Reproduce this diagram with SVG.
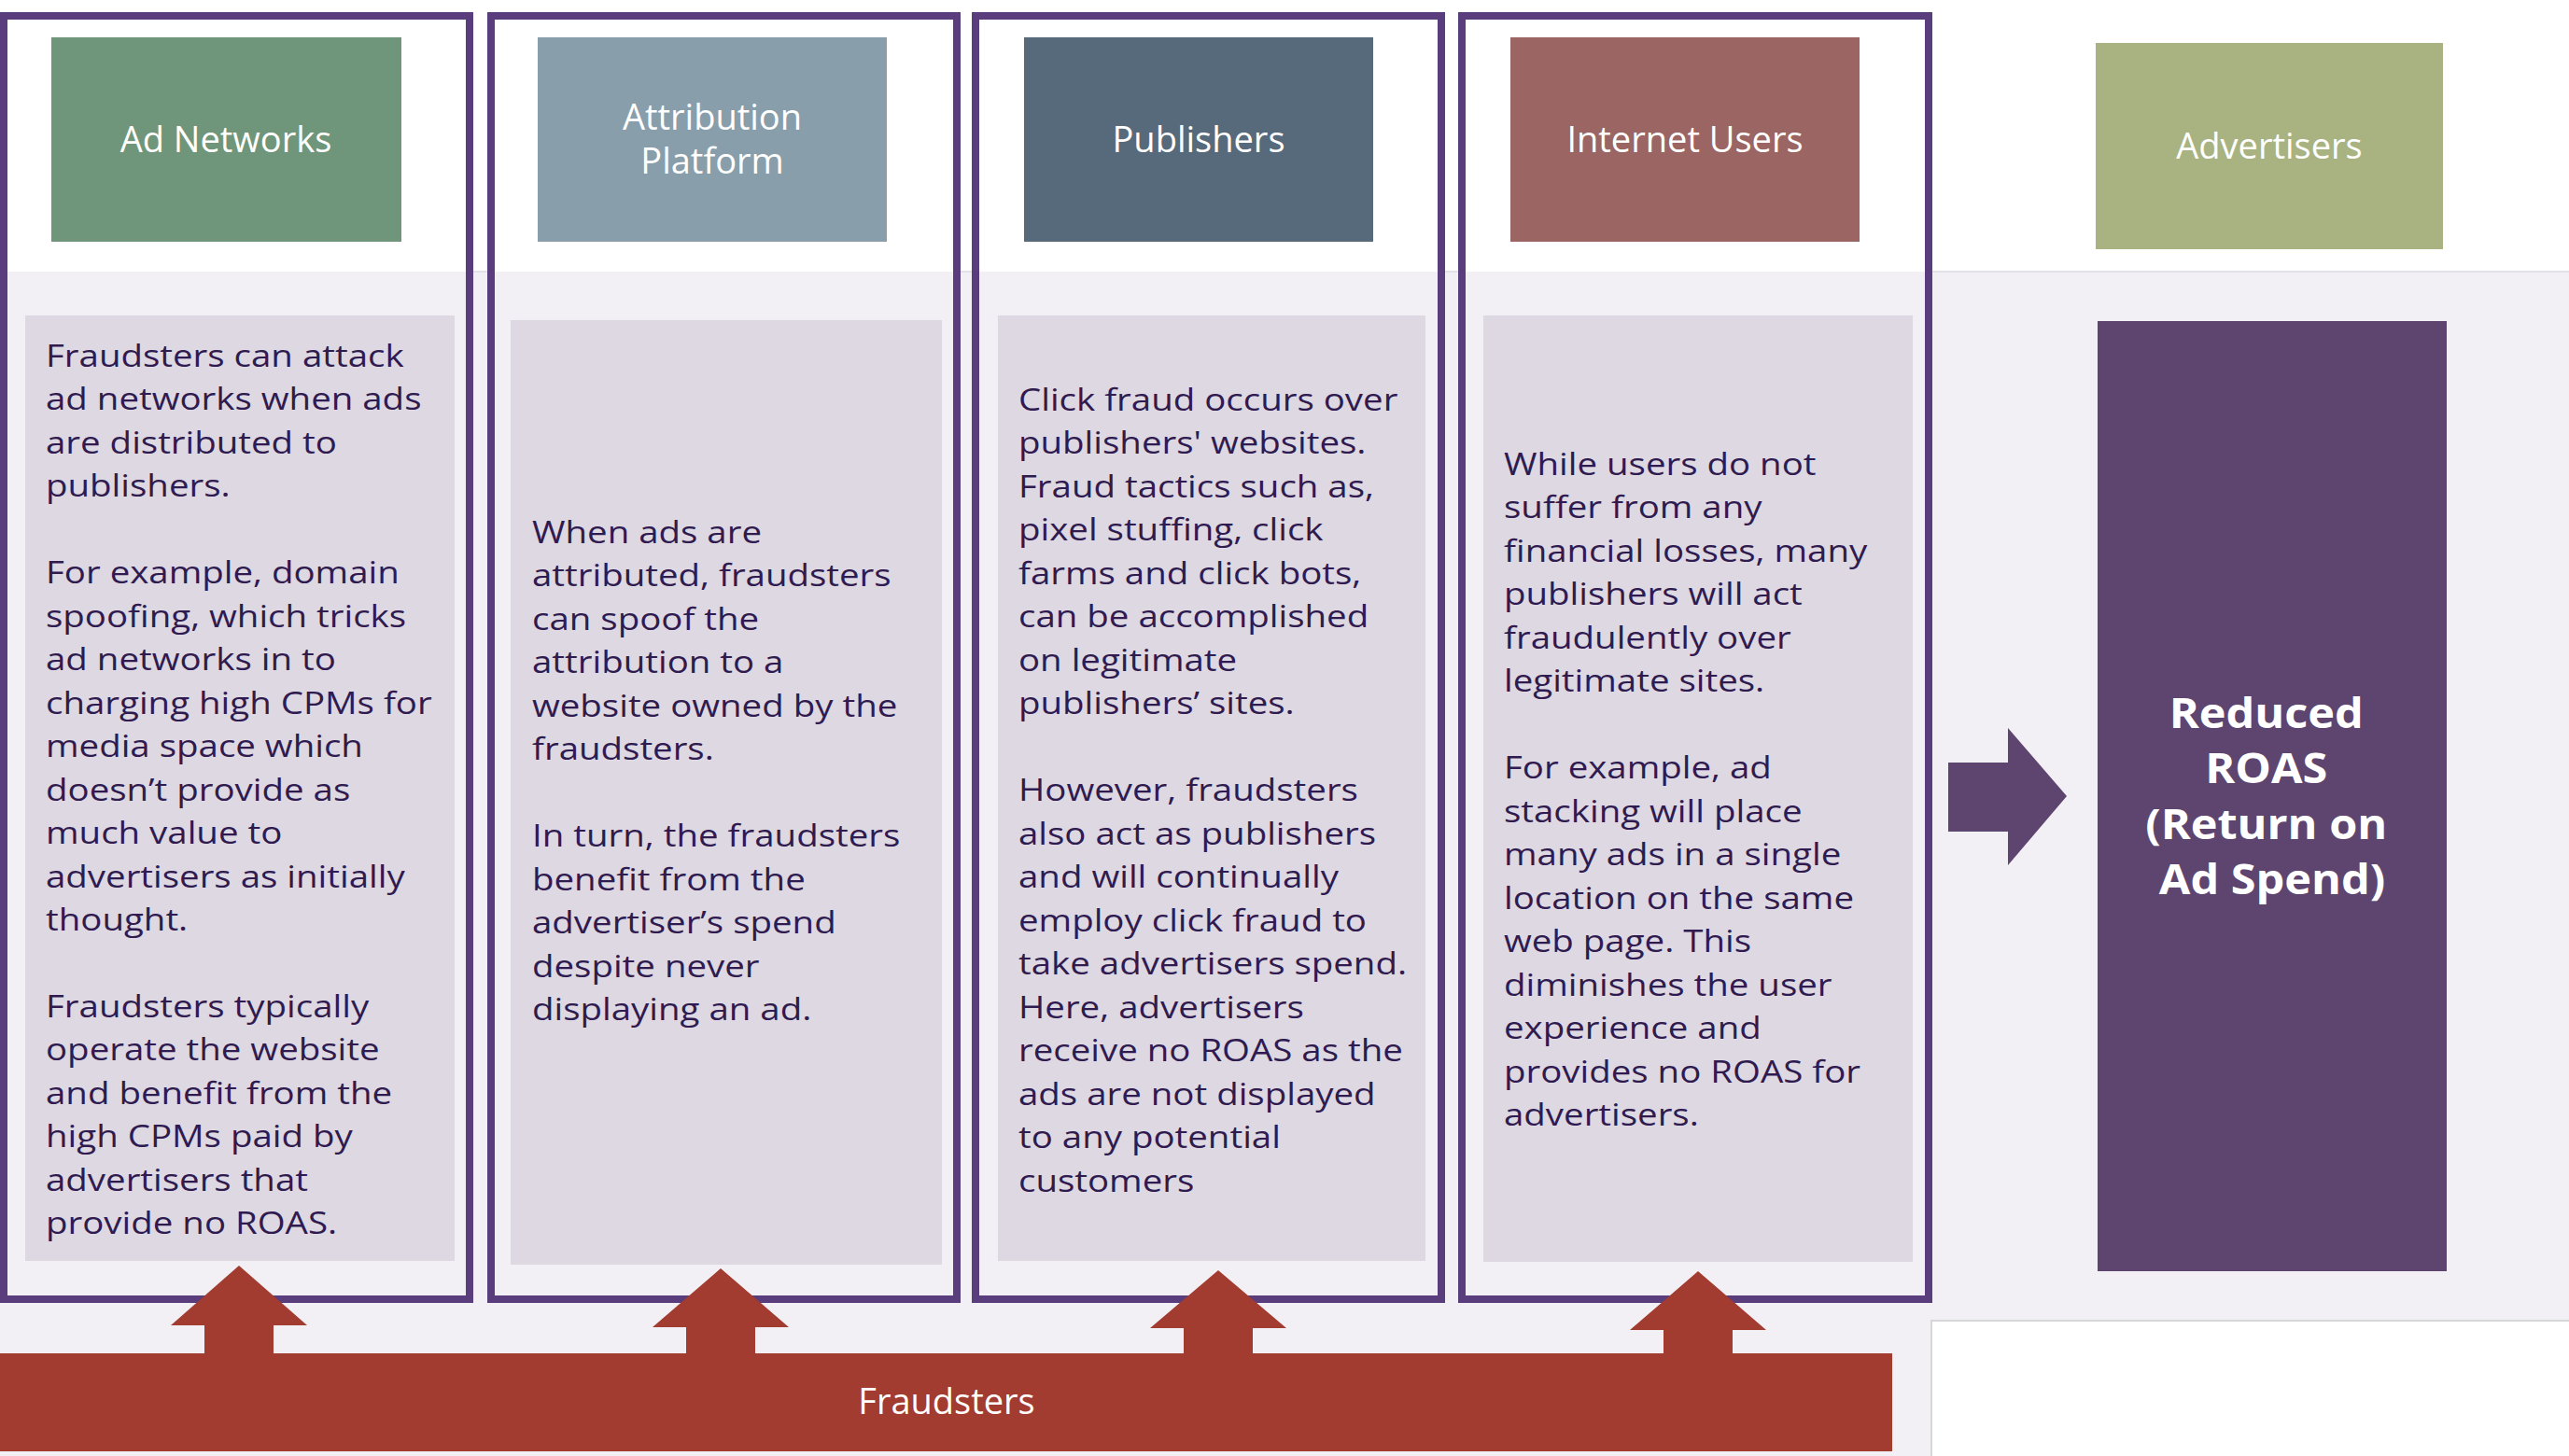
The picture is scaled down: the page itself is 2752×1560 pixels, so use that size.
<svg xmlns="http://www.w3.org/2000/svg" width="2752" height="1560" viewBox="0 0 2752 1560">
<defs>
<style>
.frame{fill:none;stroke:#5a3d7d;stroke-width:8}
.panel{fill:#ddd8e2}
.hdr{font-family:"Open Sans","Liberation Sans",sans-serif;font-size:38px;fill:#ffffff;text-anchor:middle}
.body{font-family:"Open Sans","Liberation Sans",sans-serif;font-size:33px;fill:#2f1b50}
.big{font-family:"Open Sans","Liberation Sans",sans-serif;font-size:45px;font-weight:bold;fill:#ffffff;text-anchor:middle}
.red{fill:#a23b30}
.purp{fill:#5d4570}
</style>
</defs>
<rect x="0" y="0" width="2752" height="1560" fill="#ffffff"/>
<rect x="0" y="291" width="2069" height="1269" fill="#f2f0f4"/>
<rect x="2069" y="291" width="683" height="1124" fill="#f2f0f4"/>
<line x1="0" y1="291" x2="2752" y2="291" stroke="#e3e1e7" stroke-width="2"/>
<polyline points="2069,1560 2069,1415 2752,1415" fill="none" stroke="#d6d6d8" stroke-width="2"/>

<g id="node-ad-networks">
<rect x="4" y="17" width="499" height="1375" fill="#ffffff"/>
<rect x="4" y="291" width="499" height="1101" fill="#f2f0f4"/>
<rect x="55" y="40" width="375" height="219" fill="#6f967a"/>
<text class="hdr" x="242" y="163">Ad Networks</text>
<rect class="panel" x="27" y="338" width="460" height="1013"/>
<text class="body" transform="translate(49,0) scale(1.165,1)">
<tspan x="0" y="393">Fraudsters can attack</tspan>
<tspan x="0" y="439.5">ad networks when ads</tspan>
<tspan x="0" y="486">are distributed to</tspan>
<tspan x="0" y="532.5">publishers.</tspan>
<tspan x="0" y="625.5">For example, domain</tspan>
<tspan x="0" y="672">spoofing, which tricks</tspan>
<tspan x="0" y="718.5">ad networks in to</tspan>
<tspan x="0" y="765">charging high CPMs for</tspan>
<tspan x="0" y="811.5">media space which</tspan>
<tspan x="0" y="858">doesn’t provide as</tspan>
<tspan x="0" y="904.5">much value to</tspan>
<tspan x="0" y="951">advertisers as initially</tspan>
<tspan x="0" y="997.5">thought.</tspan>
<tspan x="0" y="1090">Fraudsters typically</tspan>
<tspan x="0" y="1136.5">operate the website</tspan>
<tspan x="0" y="1183">and benefit from the</tspan>
<tspan x="0" y="1229.5">high CPMs paid by</tspan>
<tspan x="0" y="1276">advertisers that</tspan>
<tspan x="0" y="1322.5">provide no ROAS.</tspan>
</text>
<rect class="frame" x="4" y="17" width="499" height="1375"/>
</g>

<g id="node-attribution-platform">
<rect x="526" y="17" width="499" height="1375" fill="#ffffff"/>
<rect x="526" y="291" width="499" height="1101" fill="#f2f0f4"/>
<rect x="576" y="40" width="374" height="219" fill="#889eab"/>
<text class="hdr" x="763" y="139">Attribution</text>
<text class="hdr" x="763" y="186">Platform</text>
<rect class="panel" x="547" y="343" width="462" height="1012"/>
<text class="body" transform="translate(570,0) scale(1.165,1)">
<tspan x="0" y="582">When ads are</tspan>
<tspan x="0" y="628.5">attributed, fraudsters</tspan>
<tspan x="0" y="675">can spoof the</tspan>
<tspan x="0" y="721.5">attribution to a</tspan>
<tspan x="0" y="768">website owned by the</tspan>
<tspan x="0" y="814.5">fraudsters.</tspan>
<tspan x="0" y="907.5">In turn, the fraudsters</tspan>
<tspan x="0" y="954">benefit from the</tspan>
<tspan x="0" y="1000.5">advertiser’s spend</tspan>
<tspan x="0" y="1047">despite never</tspan>
<tspan x="0" y="1093.5">displaying an ad.</tspan>
</text>
<rect class="frame" x="526" y="17" width="499" height="1375"/>
</g>

<g id="node-publishers">
<rect x="1045" y="17" width="499" height="1375" fill="#ffffff"/>
<rect x="1045" y="291" width="499" height="1101" fill="#f2f0f4"/>
<rect x="1097" y="40" width="374" height="219" fill="#566a7c"/>
<text class="hdr" x="1284" y="163">Publishers</text>
<rect class="panel" x="1069" y="338" width="458" height="1013"/>
<text class="body" transform="translate(1091,0) scale(1.165,1)">
<tspan x="0" y="440">Click fraud occurs over</tspan>
<tspan x="0" y="486.5">publishers' websites.</tspan>
<tspan x="0" y="533">Fraud tactics such as,</tspan>
<tspan x="0" y="579.5">pixel stuffing, click</tspan>
<tspan x="0" y="626">farms and click bots,</tspan>
<tspan x="0" y="672.5">can be accomplished</tspan>
<tspan x="0" y="719">on legitimate</tspan>
<tspan x="0" y="765.5">publishers’ sites.</tspan>
<tspan x="0" y="858.5">However, fraudsters</tspan>
<tspan x="0" y="905">also act as publishers</tspan>
<tspan x="0" y="951.5">and will continually</tspan>
<tspan x="0" y="998">employ click fraud to</tspan>
<tspan x="0" y="1044.5">take advertisers spend.</tspan>
<tspan x="0" y="1091">Here, advertisers</tspan>
<tspan x="0" y="1137.5">receive no ROAS as the</tspan>
<tspan x="0" y="1184">ads are not displayed</tspan>
<tspan x="0" y="1230.5">to any potential</tspan>
<tspan x="0" y="1277">customers</tspan>
</text>
<rect class="frame" x="1045" y="17" width="499" height="1375"/>
</g>

<g id="node-internet-users">
<rect x="1566" y="17" width="500" height="1375" fill="#ffffff"/>
<rect x="1566" y="291" width="500" height="1101" fill="#f2f0f4"/>
<rect x="1618" y="40" width="374" height="219" fill="#9b6563"/>
<text class="hdr" x="1805" y="163">Internet Users</text>
<rect class="panel" x="1589" y="338" width="460" height="1014"/>
<text class="body" transform="translate(1611,0) scale(1.165,1)">
<tspan x="0" y="509">While users do not</tspan>
<tspan x="0" y="555.5">suffer from any</tspan>
<tspan x="0" y="602">financial losses, many</tspan>
<tspan x="0" y="648.5">publishers will act</tspan>
<tspan x="0" y="695">fraudulently over</tspan>
<tspan x="0" y="741.5">legitimate sites.</tspan>
<tspan x="0" y="834.5">For example, ad</tspan>
<tspan x="0" y="881">stacking will place</tspan>
<tspan x="0" y="927.5">many ads in a single</tspan>
<tspan x="0" y="974">location on the same</tspan>
<tspan x="0" y="1020.5">web page. This</tspan>
<tspan x="0" y="1067">diminishes the user</tspan>
<tspan x="0" y="1113.5">experience and</tspan>
<tspan x="0" y="1160">provides no ROAS for</tspan>
<tspan x="0" y="1206.5">advertisers.</tspan>
</text>
<rect class="frame" x="1566" y="17" width="500" height="1375"/>
</g>

<g id="node-advertisers">
<rect x="2245" y="46" width="372" height="221" fill="#a8b381"/>
<text class="hdr" x="2431" y="170">Advertisers</text>
</g>

<g id="node-reduced-roas">
<rect class="purp" x="2247" y="344" width="374" height="1018"/>
<text class="big" transform="translate(2434,0) scale(1.08,1)">
<tspan x="0" y="780">Reduced</tspan>
<tspan x="0" y="839">ROAS</tspan>
<tspan x="0" y="899">(Return on</tspan>
<tspan x="0" y="958">Ad Spend)</tspan>
</text>
</g>

<g id="node-fraudsters">
<rect class="red" x="0" y="1450" width="2027" height="105"/>
<text class="hdr" x="1014" y="1515">Fraudsters</text>
</g>

<g id="connectors">
<polygon class="red" points="256,1356 329,1420 293,1420 293,1452 219,1452 219,1420 183,1420"/>
<polygon class="red" points="772,1359 845,1422 809,1422 809,1452 735,1452 735,1422 699,1422"/>
<polygon class="red" points="1305,1361 1378,1423 1342,1423 1342,1452 1268,1452 1268,1423 1232,1423"/>
<polygon class="red" points="1819,1362 1892,1425 1856,1425 1856,1452 1782,1452 1782,1425 1746,1425"/>
<polygon class="purp" points="2087,817 2151,817 2151,780 2214,853 2151,927 2151,891 2087,891"/>
</g>
</svg>
